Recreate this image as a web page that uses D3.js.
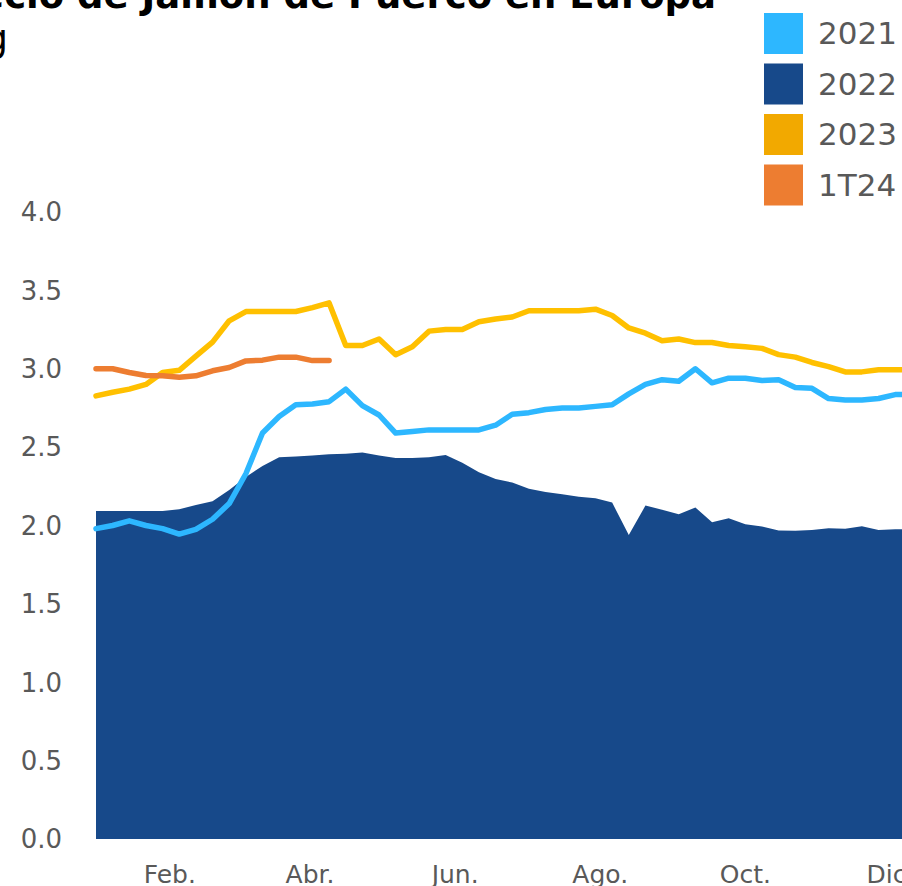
<!DOCTYPE html>
<html>
<head>
<meta charset="utf-8">
<script src="https://cdn.jsdelivr.net/npm/d3@7"></script>
<style>
  html, body { margin: 0; padding: 0; background: #fff; overflow: hidden; }
  svg { display: block; font-family: "DejaVu Sans", Verdana, sans-serif; }
</style>
</head>
<body>
<svg id="chart" width="902" height="886"></svg>
<script>
// weekly prices, USD/kg
var y2021 = [1.98, 2.00, 2.03, 2.00, 1.98, 1.945, 1.975, 2.04, 2.14, 2.33,
             2.59, 2.695, 2.77, 2.775, 2.79, 2.87, 2.765, 2.705, 2.59, 2.60,
             2.61, 2.61, 2.61, 2.61, 2.64, 2.71, 2.72, 2.74, 2.75, 2.75,
             2.76, 2.77, 2.84, 2.90, 2.93, 2.92, 3.00, 2.91, 2.94, 2.94,
             2.925, 2.93, 2.88, 2.875, 2.81, 2.80, 2.80, 2.81, 2.835, 2.835];
var y2022 = [2.093, 2.093, 2.093, 2.093, 2.093, 2.104, 2.13, 2.155, 2.227, 2.31,
             2.38, 2.436, 2.44, 2.446, 2.455, 2.457, 2.465, 2.446, 2.43, 2.43,
             2.436, 2.45, 2.40, 2.34, 2.297, 2.274, 2.234, 2.214, 2.20, 2.183,
             2.174, 2.146, 1.94, 2.127, 2.10, 2.072, 2.115, 2.02, 2.047, 2.008,
             1.993, 1.968, 1.966, 1.972, 1.983, 1.98, 1.995, 1.972, 1.976, 1.975];
var y2023 = [2.827, 2.85, 2.87, 2.90, 2.976, 2.99, 3.08, 3.17, 3.306, 3.365,
             3.365, 3.365, 3.365, 3.39, 3.42, 3.148, 3.148, 3.19, 3.09, 3.14,
             3.24, 3.25, 3.25, 3.30, 3.317, 3.33, 3.37, 3.37, 3.37, 3.37,
             3.38, 3.34, 3.26, 3.227, 3.178, 3.19, 3.167, 3.167, 3.148, 3.14,
             3.13, 3.09, 3.074, 3.04, 3.014, 2.98, 2.98, 2.993, 2.993, 2.993];
var y1t24 = [3.00, 3.00, 2.976, 2.957, 2.955, 2.946, 2.955, 2.987, 3.008, 3.05,
             3.055, 3.074, 3.074, 3.052, 3.052];

var monthLabels = ["Feb.", "Abr.", "Jun.", "Ago.", "Oct.", "Dic."];
var monthStartDay = [31, 90, 151, 212, 273, 334];
var yTicks = [0, 0.5, 1, 1.5, 2, 2.5, 3, 3.5, 4];

var legendNames = ["2021", "2022", "2023", "1T24"];
var legendColors = ["#2DB7FF", "#17498A", "#F2A900", "#ED7D31"];

var svg = d3.select("#chart");
var textColor = "#595959";

var x = d3.scaleLinear().domain([0, 51]).range([96, 96 + 16.65 * 51]);
var y = d3.scaleLinear().domain([0, 4]).range([839, 212]);

// title (cropped at the top of the picture)
svg.append("text")
    .attr("x", 716).attr("y", 8)
    .attr("text-anchor", "end")
    .attr("font-weight", "bold")
    .attr("font-size", 37)
    .attr("fill", "#000")
    .text("Precio de Jamón de Puerco en Europa");
svg.append("text")
    .attr("x", 8).attr("y", 51)
    .attr("text-anchor", "end")
    .attr("font-size", 37)
    .attr("fill", "#000")
    .text("USD/kg");

// y labels
svg.append("g").selectAll("text")
    .data(yTicks)
    .enter().append("text")
    .attr("x", 62)
    .attr("y", d => y(d))
    .attr("dy", "0.36em")
    .attr("text-anchor", "end")
    .attr("font-size", 26)
    .attr("fill", textColor)
    .text(d => d.toFixed(1));

// x labels at month starts
svg.append("g").selectAll("text")
    .data(monthLabels)
    .enter().append("text")
    .attr("x", (d, i) => x(monthStartDay[i] / 7))
    .attr("y", 883)
    .attr("text-anchor", "middle")
    .attr("font-size", 25)
    .attr("fill", textColor)
    .text(d => d);

// 2022 area
var area = d3.area()
    .x((d, i) => x(i))
    .y0(y(0))
    .y1(d => y(d));
svg.append("path")
    .datum(y2022)
    .attr("d", area)
    .attr("fill", "#17498A");

var line = d3.line()
    .x((d, i) => x(i))
    .y(d => y(d));

function drawLine(data, color) {
    svg.append("path")
        .datum(data)
        .attr("d", line)
        .attr("fill", "none")
        .attr("stroke", color)
        .attr("stroke-width", 5.5)
        .attr("stroke-linejoin", "round")
        .attr("stroke-linecap", "round");
}
drawLine(y2021, "#2DB7FF");
drawLine(y2023, "#FFC000");
drawLine(y1t24, "#ED7D31");

// legend
var legend = svg.append("g").selectAll("g")
    .data(legendNames)
    .enter().append("g")
    .attr("transform", (d, i) => "translate(764," + (13 + i * 50.5) + ")");
legend.append("rect")
    .attr("width", 39).attr("height", 41)
    .attr("fill", (d, i) => legendColors[i]);
legend.append("text")
    .attr("x", 54).attr("y", 31)
    .attr("font-size", 31)
    .attr("fill", textColor)
    .text(d => d);
</script>
</body>
</html>
